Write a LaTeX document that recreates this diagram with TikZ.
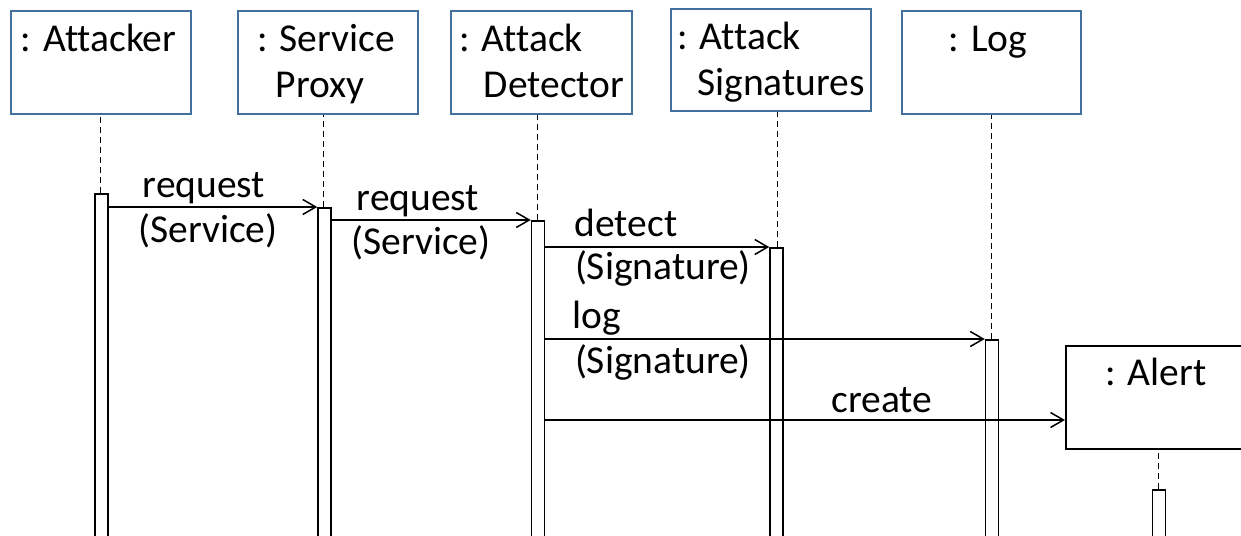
\documentclass[tikz,border=0pt]{standalone}
\usepackage{fontspec}
\setmainfont{Carlito}[Ligatures=NoCommon]
\usetikzlibrary{arrows.meta}
\definecolor{boxblue}{HTML}{41719C}
\begin{document}
\begin{tikzpicture}[x=1pt,y=-1pt,
  obj/.style={draw=boxblue, line width=2pt, inner sep=0, anchor=north west},
  newobj/.style={draw=black, line width=2pt, inner sep=0, anchor=north west},
  bar/.style={draw, line width=1.5pt, fill=white, inner sep=0, minimum width=13pt, minimum height=400pt, anchor=north},
  life/.style={dash pattern=on 6pt off 4pt, line width=1pt},
  msg/.style={-{Straight Barb[length=13pt,width=15pt]}, line width=1.5pt},
  txt/.style={font=\fontsize{39.5}{45}\selectfont, anchor=base, inner sep=0}]
\useasboundingbox (0,0) rectangle (1241,535);
\clip (0,0) rectangle (1241,535);
% objects
\node[obj, minimum width=180pt, minimum height=103pt] (att) at (10,10) {};
\node[obj, minimum width=180pt, minimum height=103pt] (prx) at (237,10) {};
\node[obj, minimum width=181pt, minimum height=103pt] (det) at (450,10) {};
\node[obj, minimum width=200pt, minimum height=102pt] (sig) at (670,8) {};
\node[obj, minimum width=179pt, minimum height=103pt] (log) at (901,10) {};
\node[newobj, minimum width=200pt, minimum height=103pt] (alr) at (1065,345) {};
% object texts
\node[txt] (tAtt) at (98.5,52) {: Attacker};
\node[txt] (tPrx1) at (326,52) {: Service};
\node[txt] (tPrx2) at (320,97) {Proxy};
\node[txt] (tDet1) at (521,52) {: Attack};
\node[txt] (tDet2) at (554,97) {Detector};
\node[txt] (tSig1) at (739,50) {: Attack};
\node[txt] (tSig2) at (781,95) {Signatures};
\node[txt] (tLog) at (988,52) {: Log};
\node[txt] (tAlr) at (1156,385) {: Alert};
% activation bars
\node[bar] (bA) at (101.5,193) {};
\node[bar] (bP) at (324.5,207) {};
\node[bar] (bD) at (538,220) {};
\node[bar] (bS) at (776.5,247) {};
\node[bar] (bL) at (992,339) {};
\node[bar] (bR) at (1159,489) {};
% lifelines
\draw[life] (bA.north -| 100,0) -- (100,0 |- att.south);
\draw[life] (bP.north -| 323,0) -- (323,0 |- prx.south);
\draw[life] (bD.north -| 537,0) -- (537,0 |- det.south);
\draw[life] (bS.north -| 777,0) -- (777,0 |- sig.south);
\draw[life] (bL.north -| 991,0) -- (991,0 |- log.south);
\draw[life] (bR.north -| 1158,0) -- (1158,0 |- alr.south);
% messages
\draw[msg] (bA.east |- 0,207) -- (bP.west |- 0,207);
\draw[msg] (bP.east |- 0,220) -- (bD.west |- 0,220);
\draw[msg] (bD.east |- 0,247) -- (bS.west |- 0,247);
\draw[msg] (bD.east |- 0,339) -- (bL.west |- 0,339);
\draw[msg] (bD.east |- 0,420) -- (alr.west |- 0,420);
% message labels
\node[txt] (m1a) at (204,197) {request};
\node[txt] (m1b) at (208,242) {(Service)};
\node[txt] (m2a) at (418,210) {request};
\node[txt] (m2b) at (421,254) {(Service)};
\node[txt] (m3a) at (626,236) {detect};
\node[txt] (m3b) at (663,279) {(Signature)};
\node[txt] (m4a) at (597,328) {log};
\node[txt] (m4b) at (663,373) {(Signature)};
\node[txt] (m5) at (882,412) {create};
\end{tikzpicture}
\end{document}
